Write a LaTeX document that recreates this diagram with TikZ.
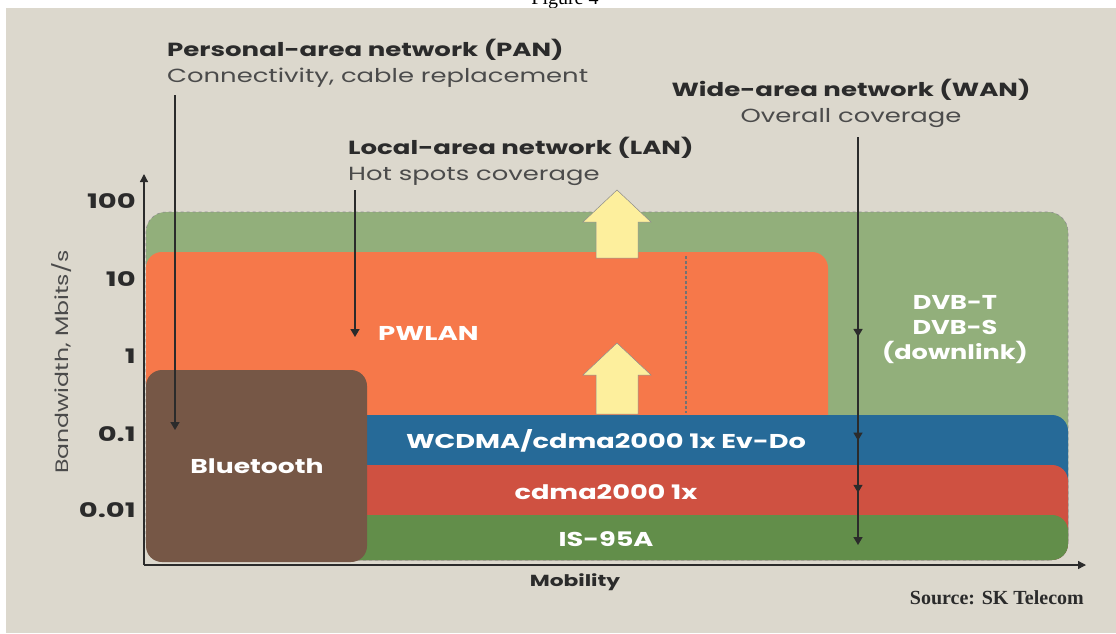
\documentclass[tikz,border=0pt]{standalone}
\usepackage{fontspec}
\usepackage{graphicx}
\setmainfont{Poppins}
\newfontfamily\srcfont{Liberation Serif}
\usetikzlibrary{arrows.meta,decorations.markings}
\definecolor{bg}{HTML}{DCD8CD}
\definecolor{lgreen}{HTML}{92AF7B}
\definecolor{orng}{HTML}{F6784A}
\definecolor{bandblue}{HTML}{266A98}
\definecolor{bandred}{HTML}{CF5141}
\definecolor{dgreen}{HTML}{628E4A}
\definecolor{brown}{HTML}{765746}
\definecolor{yel}{HTML}{FDEF9D}
\definecolor{ink}{HTML}{2B2B2B}
\newcommand\sx[2]{\scalebox{#1}[1]{#2}}
\tikzset{
  title/.style={anchor=west,inner sep=0pt,font=\fontsize{19}{22}\selectfont\bfseries,text=ink},
  sub/.style={anchor=west,inner sep=0pt,font=\fontsize{19}{22}\selectfont,text=ink!85},
  tick/.style={anchor=east,inner sep=0pt,font=\fontsize{20}{22}\selectfont\bfseries,text=ink},
  wlab/.style={inner sep=0pt,font=\fontsize{20}{25}\selectfont\bfseries,text=white,align=center},
  pointer/.style={draw=ink,line width=1.6pt,-{Triangle[width=9pt,length=8pt]}},
  fat/.style={fill=yel,draw=black!45,line width=0.5pt},
}
\begin{document}
\begin{tikzpicture}[x=1pt,y=-1pt]
\useasboundingbox (0,0) rectangle (1116,633);
\fill[white] (0,0) rectangle (1116,633);
\node[anchor=base,font=\srcfont\fontsize{20}{22}\selectfont] (fig) at (565,4) {Figure 4};
\fill[bg] (6,8) rectangle (1116,633);
% wide area green
\path[fill=lgreen,draw=black!45,dashed,line width=0.6pt,rounded corners=20pt]
  (146,560) -- (146,212) -- (1068,212) -- (1068,560) -- cycle;
% orange PWLAN
\path[fill=orng,rounded corners=16pt] (146,440) -- (146,252) -- (828,252) -- (828,440) -- cycle;
\draw[black!55,dash pattern=on 2.5pt off 2.5pt,line width=1.2pt] (686,256) -- (686,413);
% bands
\path[fill=bandblue,rounded corners=16pt] (300,560) -- (300,415) -- (1068,415) -- (1068,560) -- cycle;
\path[fill=bandred,rounded corners=16pt] (300,560) -- (300,465) -- (1068,465) -- (1068,560) -- cycle;
\path[fill=dgreen,rounded corners=16pt] (300,560) -- (300,515) -- (1068,515) -- (1068,560) -- cycle;
\fill[dgreen] (300,530) rectangle (600,560);
% bluetooth
\path[fill=brown,rounded corners=16pt] (146,562) -- (146,370) -- (367,370) -- (367,562) -- cycle;
% yellow arrows
\path[fat] (596,258) -- (596,222) -- (583,222) -- (617,190) -- (651,222) -- (638,222) -- (638,258) -- cycle;
\path[fat] (596,414) -- (596,375) -- (583,375) -- (617,343) -- (651,375) -- (638,375) -- (638,414) -- cycle;
% axes
\coordinate (origin) at (144,565);
\coordinate (ytip) at (144,174);
\coordinate (xtip) at (1086,565);
\draw[ink,line width=1.3pt,-{Triangle[width=8pt,length=8pt]}] (origin) -- (ytip);
\draw[ink,line width=1.3pt,-{Triangle[width=8pt,length=8pt]}] (origin) -- (xtip);
% tick labels
\node[tick] (t100) at (136,201) {\sx{1.45}{100}};
\node[tick] (t10) at (136,279) {\sx{1.45}{10}};
\node[tick] (t1) at (136,356) {\sx{1.45}{1}};
\node[tick] (t01) at (136,434) {\sx{1.45}{0.1}};
\node[tick] (t001) at (136,510) {\sx{1.45}{0.01}};
\node[rotate=90,inner sep=0pt,font=\fontsize{18}{20}\selectfont,text=ink!85] (ylab) at (62,362) {\sx{1.31}{Bandwidth, Mbits/s}};
\node[inner sep=0pt,font=\fontsize{16}{18}\selectfont\bfseries,text=ink] (xlab) at (575,582) {\sx{1.36}{Mobility}};
\node[anchor=east,inner sep=0pt,font=\srcfont\bfseries\fontsize{20}{22}\selectfont,text=ink] (src) at (1084,598) {Source: SK Telecom};
% titles
\node[title] (pant) at (167,50) {\sx{1.37}{Personal-area network (PAN)}};
\node[sub] (pans) at (167,78) {\sx{1.36}{Connectivity, cable replacement}};
\node[title] (lant) at (348,148) {\sx{1.37}{Local-area network (LAN)}};
\node[sub] (lans) at (348,176) {\sx{1.36}{Hot spots coverage}};
\node[title,anchor=center] (want) at (851,90) {\sx{1.37}{Wide-area network (WAN)}};
\node[sub,anchor=center] (wans) at (851,118) {\sx{1.36}{Overall coverage}};
% white labels
\node[wlab,anchor=west] (pwlan) at (378,333) {\sx{1.38}{PWLAN}};
\node[wlab] (dvb) at (955,330) {\sx{1.28}{DVB-T}\\\sx{1.28}{DVB-S}\\\sx{1.28}{(downlink)}};
\node[wlab] (wcdma) at (606,441) {\sx{1.36}{WCDMA/cdma2000 1x Ev-Do}};
\node[wlab] (cdma) at (606,492) {\sx{1.36}{cdma2000 1x}};
\node[wlab] (is95) at (606,539) {\sx{1.36}{IS-95A}};
\node[wlab] (bt) at (257,466) {\sx{1.33}{Bluetooth}};
% pointers
\coordinate (panTop) at (175,95);
\coordinate (panEnd) at (175,430);
\coordinate (lanTop) at (355,190);
\coordinate (lanEnd) at (355,337);
\coordinate (wanTop) at (858,137);
\coordinate (wanEnd) at (858,545);
\draw[pointer] (panTop) -- (panEnd);
\draw[pointer] (lanTop) -- (lanEnd);
\draw[pointer,postaction={decorate},decoration={markings,
  mark=at position 0.49 with {\arrow{Triangle[width=9pt,length=8pt]}},
  mark=at position 0.744 with {\arrow{Triangle[width=9pt,length=8pt]}},
  mark=at position 0.872 with {\arrow{Triangle[width=9pt,length=8pt]}}}] (wanTop) -- (wanEnd);
\end{tikzpicture}
\end{document}
